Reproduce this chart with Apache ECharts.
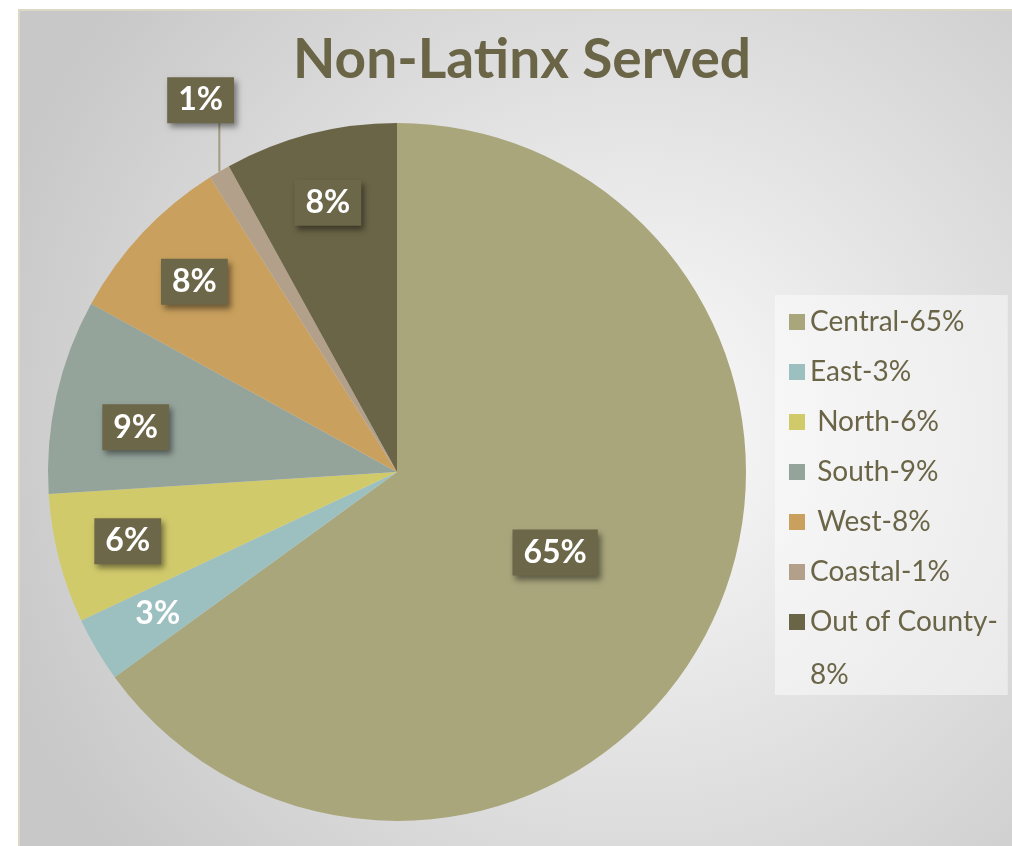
<!DOCTYPE html>
<html><head><meta charset="utf-8">
<script src="https://cdn.jsdelivr.net/npm/echarts@6/dist/echarts.min.js"></script>
<style>html,body{margin:0;padding:0;background:#fff;} #c{width:1012px;height:846px;}</style>
</head><body><div id="c"></div>
<script>
const titleText = 'Non-Latinx Served';
const categories = ['Central-65%', 'East-3%', ' North-6%', ' South-9%', ' West-8%', 'Coastal-1%', 'Out of County-8%'];
const values = [65, 3, 6, 9, 8, 1, 8];
const colors = ['#a9a67c', '#9cbfbf', '#d1ca6b', '#94a49b', '#c9a05d', '#b3a08b', '#6b6547'];

const FONT = 'Lato';
const boxLabel = {
  color: '#ffffff', fontFamily: FONT, fontWeight: 'bold', fontSize: 32, lineHeight: 34,
  backgroundColor: '#6d6749', padding: [6, 11],
  shadowColor: 'rgba(0,0,0,0.45)', shadowBlur: 6, shadowOffsetX: 3, shadowOffsetY: 4
};
const fmt = p => p.value + '%';

const CENTER = [397, 472];
const R = 349;

const mainData = categories.map((name, i) => {
  let label = { show: false };
  let labelLine = { show: false };
  if (i === 0) label = Object.assign({ show: true, position: 'inside', formatter: fmt }, boxLabel);
  if (i === 5) {
    label = Object.assign({ show: true, position: 'outside', formatter: fmt }, boxLabel);
    labelLine = { show: true, length: 40, length2: 0, lineStyle: { color: '#a39b7e', width: 2 } };
  }
  return { name, value: values[i], itemStyle: { color: colors[i] }, label, labelLine };
});

const overlayData = categories.map((name, i) => {
  let label = { show: false };
  if (i !== 0 && i !== 5) {
    label = Object.assign({ show: true, position: 'inside', formatter: fmt }, boxLabel);
    if (i === 1) {
      label.backgroundColor = 'transparent';
      label.shadowColor = 'transparent';
    }
  }
  return { name, value: values[i], itemStyle: { color: 'rgba(0,0,0,0)' }, label };
});

const chart = echarts.init(document.getElementById('c'));
chart.setOption({
  animation: false,
  graphic: [{
    type: 'rect', z: -10, silent: true,
    shape: { x: 19, y: 10, width: 995, height: 838 },
    style: {
      fill: { type: 'radial', x: 0.62, y: 0.5, r: 0.8,
        colorStops: [{ offset: 0, color: '#fbfbfb' }, { offset: 1, color: '#c8c8c8' }] },
      stroke: '#dcd8c4', lineWidth: 2
    }
  }],
  title: {
    text: titleText, left: 517, top: 28, textAlign: 'center',
    textStyle: { fontFamily: FONT, fontWeight: 'bold', fontSize: 55, color: '#6b6548' }
  },
  legend: {
    orient: 'vertical', left: 775, top: 295, padding: [2, 10, 6, 14],
    itemGap: 0, itemWidth: 16, itemHeight: 16, icon: 'rect',
    backgroundColor: 'rgba(255,255,255,0.45)',
    data: categories,
    formatter: name => name === categories[6] ? 'Out of County-\n{b|8%}' : name,
    textStyle: {
      fontFamily: FONT, fontSize: 28, color: '#6b6548', lineHeight: 50,
      rich: { b: { fontFamily: FONT, fontSize: 28, color: '#6b6548', lineHeight: 0, verticalAlign: 'top', padding: [14, 0, 0, 0] } }
    }
  },
  series: [{
    type: 'pie', center: CENTER, radius: [0, R], startAngle: 90, clockwise: true,
    avoidLabelOverlap: false, silent: true,
    data: mainData,
    labelLayout: p => {
      if (p.dataIndex !== 5) return {};
      const dx = 40, dy = -37;
      const a = p.labelLinePoints[0];
      const bottom = p.labelRect.y + dy + p.labelRect.height;
      return { dx, dy, labelLinePoints: [a, [a[0], (a[1] + bottom) / 2], [a[0], bottom]] };
    }
  }, {
    type: 'pie', center: CENTER, radius: [201, R], startAngle: 90, clockwise: true,
    avoidLabelOverlap: false, silent: true,
    data: overlayData,
    labelLayout: p => p.dataIndex === 3 ? { dy: 16, dx: 10 } : {}
  }]
});
</script></body></html>
